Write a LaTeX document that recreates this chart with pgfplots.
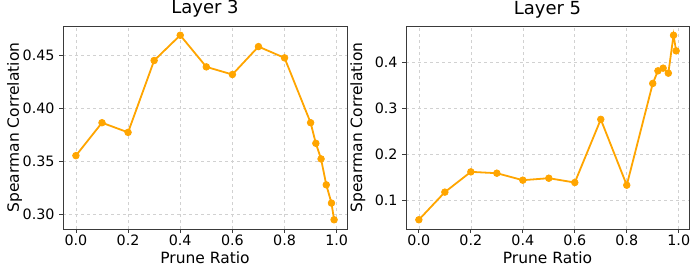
\documentclass[border=0pt]{standalone}
\usepackage{fontspec}
\setmainfont{DejaVu Sans}
\usepackage{pgfplots}
\pgfplotsset{compat=1.18}
\definecolor{mplorange}{HTML}{FFA500}
\definecolor{spine}{HTML}{3A3A3A}
\pgfplotsset{myax/.style={
  scale only axis, width=284pt, height=203pt,
  xmin=-0.0495, xmax=1.0395,
  xtick={0,0.2,0.4,0.6,0.8,1.0},
  xticklabels={0.0,0.2,0.4,0.6,0.8,1.0},
  tick align=outside, major tick length=3.8pt,
  tick style={spine, line width=0.8pt},
  axis line style={spine, line width=0.8pt},
  xtick pos=bottom, ytick pos=left,
  grid=major, grid style={dashed, black!18, line width=0.6pt},
  ticklabel style={font=\fontsize{14.3}{17}\selectfont},
  xticklabel style={anchor=base, yshift=-12.5pt},
  yticklabel style={anchor=east, inner sep=0pt, xshift=-4.5pt},
  /pgf/number format/assume math mode=true,
  xlabel=Prune Ratio, ylabel=Spearman Correlation,
  xlabel style={font=\fontsize{15.5}{18}\selectfont, at={([yshift=-34.5pt]axis description cs:0.5,0)}, anchor=base},
  ylabel style={font=\fontsize{15.5}{18}\selectfont, at={([xshift=-44pt]axis description cs:0,0.5)}, anchor=base},
  title style={font=\fontsize{18}{21}\selectfont, at={([yshift=6pt]axis description cs:0.5,1)}, anchor=base},
  clip mode=individual,
}}
\begin{document}
\begin{tikzpicture}
\useasboundingbox (0,0) rectangle (697pt,276pt);
\begin{axis}[myax, at={(63pt,47pt)}, anchor=south west,
  title={Layer 3},
  ymin=0.2866, ymax=0.4778,
  ytick={0.30,0.35,0.40,0.45}, yticklabels={0.30,0.35,0.40,0.45}]
\addplot[mplorange, line width=1.8pt, mark=*, mark size=3.3pt, mark options={line width=0.8pt}] coordinates {
(0.0,0.3557) (0.1,0.3867) (0.2,0.3776) (0.3,0.4453) (0.4,0.4691)
(0.5,0.4393) (0.6,0.4321) (0.7,0.4584) (0.8,0.4478) (0.9,0.3867)
(0.92,0.3673) (0.94,0.3526) (0.96,0.3282) (0.98,0.3110) (0.99,0.2953)};
\end{axis}
\begin{axis}[myax, at={(406pt,47pt)}, anchor=south west, width=283pt,
  title={Layer 5},
  ymin=0.0372, ymax=0.4788,
  ytick={0.1,0.2,0.3,0.4}, yticklabels={0.1,0.2,0.3,0.4}]
\addplot[mplorange, line width=1.8pt, mark=*, mark size=3.3pt, mark options={line width=0.8pt}] coordinates {
(0.0,0.0573) (0.1,0.1174) (0.2,0.1615) (0.3,0.1586) (0.4,0.1434)
(0.5,0.1477) (0.6,0.1383) (0.7,0.2757) (0.8,0.1325) (0.9,0.3538)
(0.92,0.3813) (0.94,0.3871) (0.96,0.3762) (0.98,0.4587) (0.99,0.4247)};
\end{axis}
\end{tikzpicture}
\end{document}
